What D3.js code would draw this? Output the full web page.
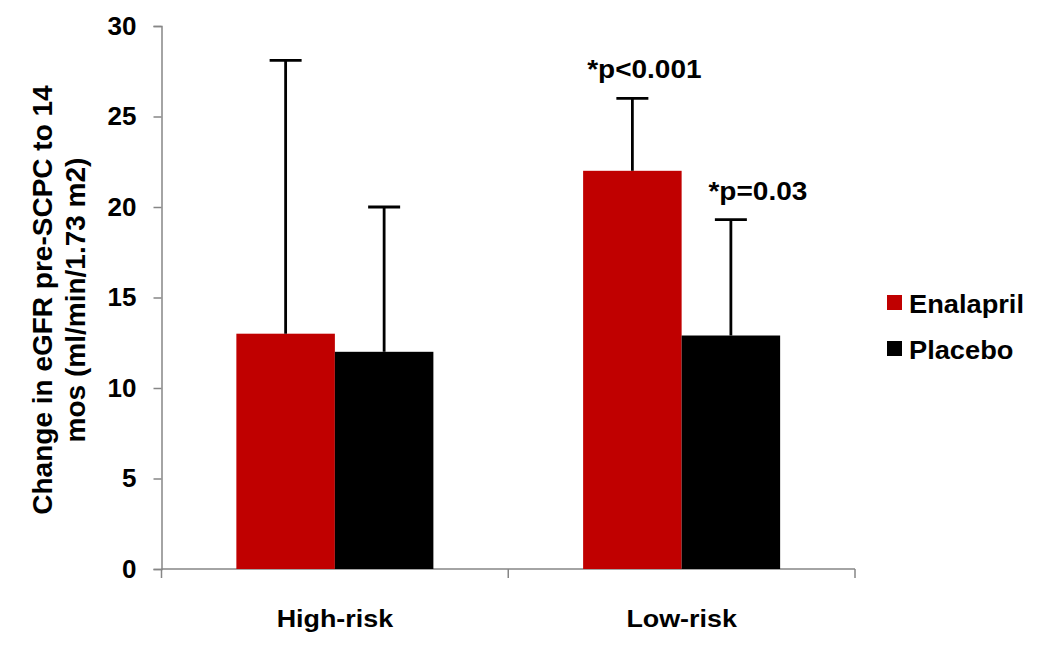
<!DOCTYPE html>
<html>
<head>
<meta charset="utf-8">
<script src="https://cdn.jsdelivr.net/npm/d3@7"></script>
<style>
  body { margin: 0; background: #fff; }
  text { font-family: "Liberation Sans", Arial, sans-serif; font-weight: bold; fill: #000; }
</style>
</head>
<body>
<div id="chart"></div>
<script>
// data
var groups = ["High-risk", "Low-risk"];
var series = ["Enalapril", "Placebo"];
var colours = ["#C00000", "#000000"];
var enalapril = [13.0, 22.0];
var placebo = [12.0, 12.9];
var enalaprilErr = [15.1, 4.0];   // upper error bar length
var placeboErr = [8.0, 6.4];
var yTicks = [0, 5, 10, 15, 20, 25, 30];
var notes = [
  {group: "Low-risk", series: "Enalapril", text: "*p<0.001"},
  {group: "Low-risk", series: "Placebo", text: "*p=0.03"}
];

var W = 1050, H = 650;
var margin = {top: 26, right: 195, bottom: 81, left: 161.5};
var w = W - margin.left - margin.right;
var h = H - margin.top - margin.bottom;

var data = [];
groups.forEach(function(g, i) {
  data.push({group: g, series: "Enalapril", value: enalapril[i], err: enalaprilErr[i]});
  data.push({group: g, series: "Placebo", value: placebo[i], err: placeboErr[i]});
});

var svg = d3.select("#chart").append("svg")
  .attr("width", W)
  .attr("height", H);

var g = svg.append("g")
  .attr("transform", "translate(" + margin.left + "," + margin.top + ")");

var x0 = d3.scaleBand().domain(groups).range([0, w]).padding(0);
var x1 = d3.scaleBand().domain(series).range([0, x0.bandwidth()])
  .paddingInner(0).paddingOuter(0.76);
var yScale = d3.scaleLinear().domain([0, 30]).range([h, 0]);
var colour = d3.scaleOrdinal().domain(series).range(colours);

// y axis
var yAxis = d3.axisLeft(yScale).tickValues(yTicks).tickSize(8).tickPadding(17);
var ya = g.append("g").call(yAxis);
ya.select(".domain").attr("stroke", "#868686").attr("stroke-width", 1.5);
ya.selectAll(".tick line").attr("stroke", "#868686").attr("stroke-width", 1.5);
ya.selectAll(".tick text")
  .style("font-size", "26px")
  .style("font-family", "Liberation Sans, Arial, sans-serif")
  .style("font-weight", "bold")
  .attr("fill", "#000");

// x axis
g.append("line")
  .attr("x1", 0).attr("x2", w)
  .attr("y1", h).attr("y2", h)
  .attr("stroke", "#868686").attr("stroke-width", 1.5);
var bounds = groups.map(function(d) { return x0(d); }).concat([w]);
g.selectAll(".xtick").data(bounds).enter().append("line")
  .attr("class", "xtick")
  .attr("x1", function(d) { return d; }).attr("x2", function(d) { return d; })
  .attr("y1", h).attr("y2", h + 9)
  .attr("stroke", "#868686").attr("stroke-width", 1.5);

g.selectAll(".xlabel").data(groups).enter().append("text")
  .attr("class", "xlabel")
  .attr("transform", function(d) {
    return "translate(" + (x0(d) + x0.bandwidth() / 2) + "," + (h + 58) + ") scale(1.12,1)";
  })
  .attr("text-anchor", "middle")
  .style("font-size", "24px")
  .text(function(d) { return d; });

// bars
g.selectAll(".bar").data(data).enter().append("rect")
  .attr("class", "bar")
  .attr("x", function(d) { return x0(d.group) + x1(d.series); })
  .attr("y", function(d) { return yScale(d.value); })
  .attr("width", x1.bandwidth())
  .attr("height", function(d) { return h - yScale(d.value); })
  .attr("fill", function(d) { return colour(d.series); });

// error bars (upper only)
var cx = function(d) { return x0(d.group) + x1(d.series) + x1.bandwidth() / 2; };
g.selectAll(".err").data(data).enter().append("line")
  .attr("class", "err")
  .attr("x1", cx).attr("x2", cx)
  .attr("y1", function(d) { return yScale(d.value); })
  .attr("y2", function(d) { return yScale(d.value + d.err); })
  .attr("stroke", "#000").attr("stroke-width", 2.8);
g.selectAll(".cap").data(data).enter().append("line")
  .attr("class", "cap")
  .attr("x1", function(d) { return cx(d) - 16; })
  .attr("x2", function(d) { return cx(d) + 16; })
  .attr("y1", function(d) { return yScale(d.value + d.err); })
  .attr("y2", function(d) { return yScale(d.value + d.err); })
  .attr("stroke", "#000").attr("stroke-width", 2.8);

// p-value notes
var noteDx = {"Enalapril": 12, "Placebo": 27};
g.selectAll(".note").data(notes).enter().append("text")
  .attr("class", "note")
  .attr("transform", function(n) {
    var d = data.filter(function(e) { return e.group === n.group && e.series === n.series; })[0];
    return "translate(" + (cx(d) + noteDx[n.series]) + "," + (yScale(d.value + d.err) - 20) + ") scale(1.12,1)";
  })
  .attr("text-anchor", "middle")
  .style("font-size", "25px")
  .text(function(n) { return n.text; });

// y label
var yl = svg.append("text")
  .attr("transform", "translate(52,300) rotate(-90)")
  .attr("text-anchor", "middle")
  .style("font-size", "28px");
yl.append("tspan").attr("x", 0).attr("dy", 0).text("Change in eGFR pre-SCPC to 14");
yl.append("tspan").attr("x", 0).attr("dy", 33).text("mos (ml/min/1.73 m2)");

// legend
var legend = svg.append("g").attr("transform", "translate(887,295)");
var li = legend.selectAll(".li").data(series).enter().append("g")
  .attr("transform", function(d, i) { return "translate(0," + (i * 46) + ")"; });
li.append("rect")
  .attr("width", 15).attr("height", 15)
  .attr("fill", function(d) { return colour(d); });
li.append("text")
  .attr("transform", "translate(22,18) scale(1.09,1)")
  .style("font-size", "25px")
  .text(function(d) { return d; });
</script>
</body>
</html>
